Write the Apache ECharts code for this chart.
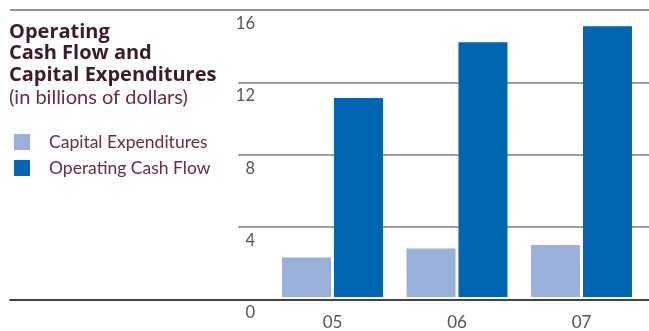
<!DOCTYPE html>
<html>
<head>
<meta charset="utf-8">
<script src="https://cdn.jsdelivr.net/npm/echarts@6/dist/echarts.min.js"></script>
<style>
  html, body { margin: 0; padding: 0; background: #fff; }
  #chart { width: 649px; height: 331px; }
</style>
</head>
<body>
<div id="chart"></div>
<script>
// Fiscal years shown on the category axis
const years = ['05', '06', '07'];
// Values in billions of dollars
const capitalExpenditures = [2.2, 2.7, 2.9];
const operatingCashFlow = [11.1, 14.2, 15.1];
// Value axis range and step
const yMin = 0;
const yMax = 16;
const yStep = 4;

const maroon = '#6b2a47';
const titleColor = '#3a1c2b';
const capexColor = '#98b0da';
const ocfColor = '#0066b3';

const chart = echarts.init(document.getElementById('chart'), null, { renderer: 'canvas' });

const plotTop = 10;
const plotBottom = 31.5;

chart.setOption({
  animation: false,
  backgroundColor: '#ffffff',
  title: [
    {
      text: 'Operating\nCash Flow and\nCapital Expenditures',
      left: 9,
      top: 21,
      padding: 0,
      textStyle: {
        fontFamily: 'Open Sans',
        fontWeight: 'bold',
        fontSize: 20,
        lineHeight: 21.7,
        color: titleColor
      }
    },
    {
      text: '(in billions of dollars)',
      left: 9,
      top: 88,
      padding: 0,
      textStyle: {
        fontFamily: 'Lato',
        fontWeight: 'normal',
        fontSize: 20,
        color: maroon
      }
    }
  ],
  legend: {
    orient: 'vertical',
    left: 14,
    top: 133,
    padding: 0,
    itemWidth: 16,
    itemHeight: 16,
    itemGap: 8,
    icon: 'rect',
    textStyle: {
      fontFamily: 'Lato',
      fontSize: 17.5,
      color: maroon,
      padding: [0, 0, 0, 14]
    },
    data: ['Capital Expenditures', 'Operating Cash Flow']
  },
  grid: [
    // bars
    { left: 270.25, right: 5.25, top: plotTop, bottom: plotBottom },
    // inner gridlines and value labels
    { left: 238, right: 0, top: plotTop, bottom: plotBottom },
    // full-width top rule and baseline
    { left: 10, right: 0, top: plotTop, bottom: plotBottom }
  ],
  xAxis: [
    {
      gridIndex: 0,
      type: 'category',
      data: years,
      axisLine: { show: false },
      axisTick: { show: false },
      axisLabel: {
        margin: 17,
        fontFamily: 'Lato',
        fontSize: 17,
        color: '#555555'
      }
    },
    { gridIndex: 1, type: 'value', show: false },
    {
      gridIndex: 2,
      type: 'value',
      axisLine: { show: true, lineStyle: { color: '#444444', width: 2 } },
      axisTick: { show: false },
      axisLabel: { show: false },
      splitLine: { show: false }
    }
  ],
  yAxis: [
    {
      gridIndex: 0,
      type: 'value',
      min: yMin,
      max: yMax,
      interval: yStep,
      axisLine: { show: false },
      axisTick: { show: false },
      axisLabel: { show: false },
      splitLine: { show: false }
    },
    {
      gridIndex: 1,
      type: 'value',
      min: yMin,
      max: yMax,
      interval: yStep,
      axisLine: { show: false },
      axisTick: { show: false },
      axisLabel: {
        inside: true,
        margin: 17,
        align: 'right',
        verticalAlign: 'top',
        padding: [5, 0, 0, 0],
        fontFamily: 'Lato',
        fontSize: 16.5,
        color: '#555555'
      },
      splitLine: {
        show: true,
        lineStyle: {
          color: ['transparent', '#808080', '#808080', '#808080', 'transparent'],
          width: 1.5
        }
      }
    },
    {
      gridIndex: 2,
      type: 'value',
      min: yMin,
      max: yMax,
      interval: yMax - yMin,
      axisLine: { show: false },
      axisTick: { show: false },
      axisLabel: { show: false },
      splitLine: {
        show: true,
        lineStyle: { color: ['transparent', '#707070'], width: 1.5 }
      }
    }
  ],
  series: [
    {
      name: 'Capital Expenditures',
      type: 'bar',
      xAxisIndex: 0,
      yAxisIndex: 0,
      data: capitalExpenditures,
      barWidth: 49,
      barGap: '6%',
      itemStyle: { color: capexColor },
      z: 3
    },
    {
      name: 'Operating Cash Flow',
      type: 'bar',
      xAxisIndex: 0,
      yAxisIndex: 0,
      data: operatingCashFlow,
      barWidth: 49,
      barGap: '6%',
      itemStyle: { color: ocfColor },
      z: 3
    }
  ]
});
</script>
</body>
</html>
